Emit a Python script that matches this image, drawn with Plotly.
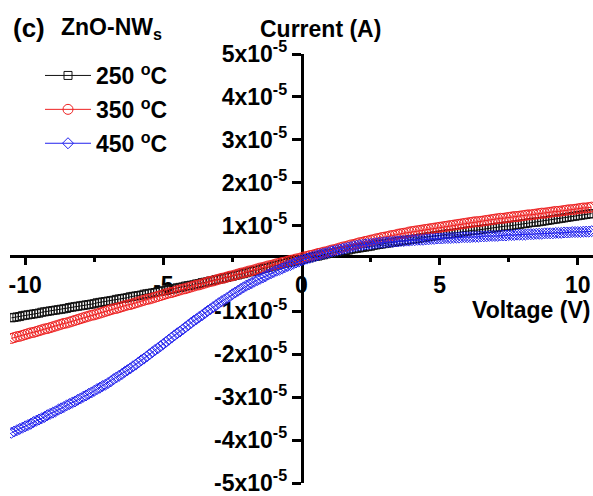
import numpy as np
import plotly.graph_objects as go

# Voltage sweep (V), 0.1 V steps from -10.5 to 10.5
voltage = np.round(np.arange(-105, 106) / 10.0, 1)

# Current in units of 1e-5 A
i_250 = [
    -1.15, -1.14, -1.13, -1.12, -1.10,
    -1.09, -1.08, -1.07, -1.06, -1.05, -1.04, -1.02, -1.01, -1.00, -0.99,
    -0.98, -0.97, -0.96, -0.95, -0.94, -0.93, -0.91, -0.90, -0.89, -0.88,
    -0.87, -0.86, -0.85, -0.84, -0.83, -0.82, -0.80, -0.79, -0.78, -0.77,
    -0.76, -0.75, -0.74, -0.72, -0.71, -0.70, -0.69, -0.68, -0.66, -0.65,
    -0.64, -0.63, -0.62, -0.60, -0.59, -0.58, -0.57, -0.56, -0.54, -0.53,
    -0.52, -0.51, -0.49, -0.48, -0.47, -0.45, -0.44, -0.43, -0.41, -0.40,
    -0.39, -0.38, -0.36, -0.35, -0.33, -0.32, -0.31, -0.29, -0.28, -0.26,
    -0.25, -0.24, -0.22, -0.21, -0.19, -0.18, -0.16, -0.15, -0.13, -0.12,
    -0.10, -0.08, -0.07, -0.05, -0.04, -0.02, 0.00, 0.01, 0.03, 0.04,
    0.06, 0.08, 0.09, 0.11, 0.12, 0.14, 0.15, 0.17, 0.18, 0.20,
    0.21, 0.23, 0.24, 0.25, 0.27, 0.28, 0.29, 0.31, 0.32, 0.34,
    0.35, 0.36, 0.37, 0.39, 0.40, 0.41, 0.42, 0.43, 0.45, 0.46,
    0.47, 0.48, 0.49, 0.50, 0.51, 0.52, 0.54, 0.55, 0.56, 0.57,
    0.58, 0.59, 0.60, 0.61, 0.62, 0.63, 0.64, 0.65, 0.66, 0.67,
    0.68, 0.69, 0.70, 0.71, 0.72, 0.73, 0.74, 0.75, 0.76, 0.77,
    0.78, 0.79, 0.80, 0.81, 0.81, 0.82, 0.83, 0.84, 0.85, 0.86,
    0.87, 0.88, 0.89, 0.89, 0.90, 0.91, 0.92, 0.93, 0.93, 0.94,
    0.95, 0.96, 0.97, 0.98, 0.99, 0.99, 1.00, 1.01, 1.02, 1.03,
    1.04, 1.05, 1.06, 1.07, 1.08, 1.08, 1.09, 1.10, 1.11, 1.12,
    1.13, 1.14, 1.15, 1.16, 1.17, 1.18, 1.19, 1.20, 1.21, 1.22,
    1.23, 1.24, 1.25, 1.26, 1.27, 1.28,
]

i_350 = [
    -1.63, -1.61, -1.59, -1.58, -1.56,
    -1.54, -1.52, -1.50, -1.49, -1.47, -1.45, -1.43, -1.41, -1.40, -1.38,
    -1.36, -1.34, -1.32, -1.30, -1.28, -1.27, -1.25, -1.23, -1.21, -1.19,
    -1.17, -1.15, -1.13, -1.11, -1.09, -1.08, -1.06, -1.04, -1.02, -1.00,
    -0.98, -0.96, -0.94, -0.93, -0.91, -0.89, -0.87, -0.85, -0.84, -0.82,
    -0.80, -0.78, -0.76, -0.74, -0.72, -0.71, -0.69, -0.67, -0.65, -0.63,
    -0.61, -0.59, -0.57, -0.56, -0.54, -0.52, -0.50, -0.48, -0.47, -0.45,
    -0.43, -0.41, -0.39, -0.38, -0.36, -0.34, -0.32, -0.30, -0.29, -0.27,
    -0.25, -0.23, -0.22, -0.20, -0.18, -0.17, -0.15, -0.13, -0.11, -0.10,
    -0.08, -0.06, -0.05, -0.03, -0.01, 0.01, 0.02, 0.04, 0.06, 0.07,
    0.09, 0.11, 0.12, 0.14, 0.15, 0.17, 0.19, 0.20, 0.22, 0.23,
    0.25, 0.27, 0.28, 0.30, 0.31, 0.33, 0.35, 0.36, 0.38, 0.39,
    0.41, 0.43, 0.44, 0.46, 0.48, 0.50, 0.51, 0.53, 0.55, 0.56,
    0.58, 0.60, 0.61, 0.63, 0.64, 0.66, 0.67, 0.69, 0.70, 0.72,
    0.73, 0.74, 0.76, 0.77, 0.78, 0.80, 0.81, 0.82, 0.83, 0.85,
    0.86, 0.87, 0.88, 0.89, 0.90, 0.91, 0.92, 0.93, 0.94, 0.95,
    0.96, 0.97, 0.98, 0.99, 1.00, 1.01, 1.02, 1.03, 1.04, 1.05,
    1.06, 1.07, 1.08, 1.09, 1.09, 1.10, 1.11, 1.12, 1.13, 1.14,
    1.15, 1.16, 1.17, 1.17, 1.18, 1.19, 1.20, 1.21, 1.21, 1.22,
    1.23, 1.24, 1.25, 1.25, 1.26, 1.27, 1.28, 1.29, 1.29, 1.30,
    1.31, 1.32, 1.33, 1.33, 1.34, 1.35, 1.36, 1.37, 1.37, 1.38,
    1.39, 1.40, 1.41, 1.41, 1.42, 1.43,
]

i_450 = [
    -3.83, -3.80, -3.77, -3.74, -3.71,
    -3.68, -3.65, -3.62, -3.58, -3.55, -3.52, -3.49, -3.46, -3.42, -3.39,
    -3.36, -3.33, -3.29, -3.26, -3.23, -3.19, -3.16, -3.13, -3.10, -3.06,
    -3.03, -2.99, -2.96, -2.92, -2.89, -2.85, -2.81, -2.78, -2.74, -2.71,
    -2.67, -2.63, -2.58, -2.54, -2.50, -2.46, -2.41, -2.37, -2.33, -2.28,
    -2.24, -2.19, -2.14, -2.10, -2.05, -2.00, -1.95, -1.90, -1.86, -1.81,
    -1.76, -1.71, -1.66, -1.61, -1.56, -1.51, -1.47, -1.42, -1.37, -1.32,
    -1.27, -1.22, -1.18, -1.13, -1.09, -1.04, -0.99, -0.95, -0.90, -0.86,
    -0.81, -0.77, -0.73, -0.69, -0.65, -0.60, -0.56, -0.52, -0.48, -0.44,
    -0.40, -0.37, -0.34, -0.30, -0.27, -0.24, -0.21, -0.18, -0.14, -0.11,
    -0.08, -0.05, -0.03, 0.00, 0.03, 0.06, 0.08, 0.11, 0.14, 0.16,
    0.19, 0.21, 0.23, 0.25, 0.27, 0.29, 0.31, 0.33, 0.35, 0.36,
    0.38, 0.40, 0.41, 0.43, 0.44, 0.46, 0.47, 0.49, 0.50, 0.52,
    0.53, 0.54, 0.55, 0.56, 0.57, 0.57, 0.58, 0.59, 0.60, 0.60,
    0.61, 0.61, 0.62, 0.62, 0.63, 0.63, 0.64, 0.64, 0.65, 0.65,
    0.66, 0.66, 0.67, 0.67, 0.67, 0.68, 0.68, 0.69, 0.69, 0.70,
    0.70, 0.70, 0.71, 0.71, 0.71, 0.72, 0.72, 0.72, 0.73, 0.73,
    0.73, 0.73, 0.74, 0.74, 0.74, 0.75, 0.75, 0.75, 0.76, 0.76,
    0.76, 0.76, 0.77, 0.77, 0.77, 0.78, 0.78, 0.78, 0.79, 0.79,
    0.79, 0.79, 0.80, 0.80, 0.80, 0.81, 0.81, 0.81, 0.82, 0.82,
    0.82, 0.82, 0.83, 0.83, 0.83, 0.84, 0.84, 0.84, 0.85, 0.85,
    0.85, 0.85, 0.86, 0.86, 0.86, 0.87,
]

series_names = ["250 <sup>o</sup>C", "350 <sup>o</sup>C", "450 <sup>o</sup>C"]
x_tick_values = [-10, -5, 0, 5, 10]
x_tick_labels = ["-10", "-5", "0", "5", "10"]
y_tick_values = [-5, -4, -3, -2, -1, 1, 2, 3, 4, 5]
y_tick_labels = [f"{v}x10<sup>-5</sup>" for v in y_tick_values]

for s in (i_250, i_350, i_450):
    assert len(s) == len(voltage), (len(s), len(voltage))

W, H = 593, 496
ML, MR, MT, MB = 10, 0, 54, 10
PW, PH = W - ML - MR, H - MT - MB


def px(x):
    return (x - ML) / PW


def py(y):
    return (H - MB - y) / PH


FONT = "Arial, 'Liberation Sans', sans-serif"
FS = 23

styles = [
    dict(color="#111111", symbol="square-open", size=8),
    dict(color="#ee2222", symbol="circle-open", size=10),
    dict(color="#2222ee", symbol="diamond-open", size=8.5),
]

fig = go.Figure()
for name, vals, st in zip(series_names, [i_250, i_350, i_450], styles):
    fig.add_trace(go.Scatter(
        x=voltage, y=vals, mode="lines+markers", name=name,
        legendgroup=name,
        line=dict(color=st["color"], width=1),
        marker=dict(symbol=st["symbol"], size=st["size"], color=st["color"],
                    line=dict(color=st["color"], width=1)),
    ))

x_cross = 0.30  # x axis line crosses y at this value (units 1e-5 A)
y_lo, y_hi = -5, 5
tfont = dict(family=FONT, size=FS, color="black", weight="bold")

fig.update_layout(
    width=W, height=H,
    margin=dict(l=ML, r=MR, t=MT, b=MB),
    paper_bgcolor="white", plot_bgcolor="white",
    font=tfont,
    showlegend=True,
    legend=dict(
        x=px(40), y=py(54), xanchor="left", yanchor="top",
        bgcolor="rgba(0,0,0,0)", itemwidth=46, tracegroupgap=1,
        font=tfont,
    ),
    xaxis=dict(
        range=[-10.55, 10.55], anchor="free",
        position=(x_cross - y_lo) / (y_hi - y_lo),
        showgrid=False, zeroline=False, showline=True, linecolor="black",
        linewidth=2.5, ticks="outside", ticklen=8, tickwidth=2.5,
        tickcolor="black", tickvals=x_tick_values, ticktext=x_tick_labels,
        tickfont=tfont, ticklabeloverflow="allow",
        minor=dict(dtick=2.5, tick0=0, ticks="outside", ticklen=5,
                   tickwidth=2.5, tickcolor="black"),
        layer="below traces",
    ),
    yaxis=dict(
        range=[y_lo, y_hi], anchor="free", position=0.5,
        showgrid=False, zeroline=False, showline=True, linecolor="black",
        linewidth=2.5, ticks="outside", ticklen=9, tickwidth=2.5,
        tickcolor="black", tickvals=y_tick_values, ticktext=y_tick_labels,
        tickfont=tfont, ticklabeloverflow="allow",
        layer="below traces",
    ),
)

annotations = [
    dict(text="(c)", x=px(11), y=py(28), xanchor="left", yanchor="middle",
         size=26),
    dict(text="ZnO-NW<sub>s</sub>", x=px(59), y=py(28), xanchor="left",
         yanchor="middle", size=23),
    dict(text="Current (A)", x=px(320), y=py(29), xanchor="center",
         yanchor="middle", size=FS),
    dict(text="Voltage (V)", x=px(592), y=py(312), xanchor="right",
         yanchor="middle", size=FS),
]
for a in annotations:
    sz = a.pop("size")
    fig.add_annotation(xref="paper", yref="paper", showarrow=False,
                       font=dict(family=FONT, size=sz, color="black",
                                 weight="bold"), **a)

fig.write_html("out.html")
